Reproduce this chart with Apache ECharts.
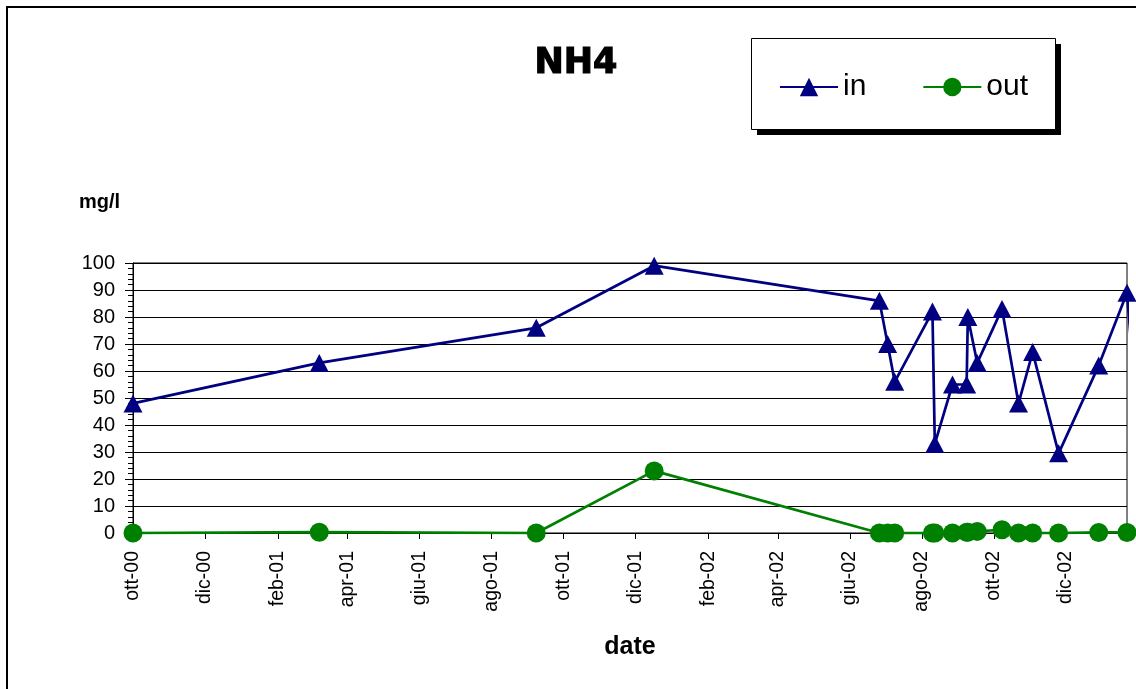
<!DOCTYPE html>
<html>
<head>
<meta charset="utf-8">
<script src="https://cdn.jsdelivr.net/npm/echarts@6/dist/echarts.min.js"></script>
<style>
  html, body { margin: 0; padding: 0; background: #fff; }
  #chart { width: 1136px; height: 689px; }
</style>
</head>
<body>
<div id="chart"></div>
<script>
// Sampling dates and NH4 concentrations (mg/l)
const sampleDates = ['2000-10-01', '2001-03-08', '2001-09-08', '2001-12-17', '2002-06-26',
  '2002-07-03', '2002-07-09', '2002-08-10', '2002-08-12', '2002-08-27', '2002-09-08',
  '2002-09-09', '2002-09-17', '2002-10-08', '2002-10-22', '2002-11-03', '2002-11-25',
  '2002-12-29', '2003-01-22', '2003-02-07'];
const nh4In = [48, 63, 76, 99, 86, 70, 56, 82, 33, 55, 55, 80, 63, 83, 48, 67, 29.5, 62, 89, 3];
const nh4Out = [0, 0.3, 0, 23, 0, 0, 0, 0, 0, 0, 0.3, 0.3, 0.6, 1.2, 0, 0, 0, 0.2, 0.2, 0];

// Date axis: two-month ticks
const xTickDates = ['2000-10-01', '2000-12-01', '2001-02-01', '2001-04-01', '2001-06-01',
  '2001-08-01', '2001-10-01', '2001-12-01', '2002-02-01', '2002-04-01', '2002-06-01',
  '2002-08-01', '2002-10-01', '2002-12-01'];
const xTickLabels = ['ott-00', 'dic-00', 'feb-01', 'apr-01', 'giu-01', 'ago-01', 'ott-01',
  'dic-01', 'feb-02', 'apr-02', 'giu-02', 'ago-02', 'ott-02', 'dic-02'];
const xRange = ['2000-10-01', '2003-01-22'];

const FONT = '"Liberation Sans", Arial, sans-serif';

function ts(s) {
  const p = s.split('-').map(Number);
  return new Date(p[0], p[1] - 1, p[2]).getTime();
}
const tickTs = xTickDates.map(ts);
const DAY = 86400000;

const chart = echarts.init(document.getElementById('chart'), null, { renderer: 'canvas' });

chart.setOption({
  animation: false,
  backgroundColor: '#fff',
  title: {
    text: 'NH4',
    left: 576,
    top: 46,
    padding: 0,
    textAlign: 'center',
    textStyle: {
      fontFamily: '"DejaVu Sans", sans-serif', fontWeight: 'bold', fontSize: 35, color: '#000',
      textBorderColor: '#000', textBorderWidth: 1.2
    }
  },
  graphic: [
    // outer chart frame
    { type: 'rect', z: 0, silent: true, shape: { x: 7, y: 7, width: 1300, height: 900 },
      style: { fill: 'none', stroke: '#000', lineWidth: 2 } },
    // legend frame with drop shadow
    { type: 'rect', z: 1, silent: true, shape: { x: 757, y: 44, width: 304, height: 91 },
      style: { fill: '#000' } },
    { type: 'rect', z: 2, silent: true, shape: { x: 751.5, y: 38.5, width: 304, height: 91 },
      style: { fill: '#fff', stroke: '#000', lineWidth: 1 } },
    // unit label
    { type: 'text', z: 3, silent: true, x: 79, y: 202,
      style: { text: 'mg/l', font: 'bold 20px ' + FONT, fill: '#000', verticalAlign: 'middle' } }
  ],
  legend: {
    data: ['in', 'out'],
    left: 779,
    top: 72,
    padding: 0,
    itemWidth: 58,
    itemHeight: 23,
    itemGap: 56,
    z: 10,
    textStyle: { fontFamily: FONT, fontSize: 30, color: '#000' }
  },
  grid: {
    left: 133, top: 263, width: 994, height: 270,
    show: true, borderColor: '#000', borderWidth: 1, backgroundColor: 'transparent'
  },
  xAxis: {
    type: 'value',
    min: ts(xRange[0]),
    max: ts(xRange[1]),
    name: 'date',
    nameLocation: 'middle',
    nameGap: 102,
    nameTextStyle: { fontFamily: FONT, fontWeight: 'bold', fontSize: 25, color: '#000' },
    axisLine: { show: true, lineStyle: { color: '#000', width: 1 } },
    axisTick: { show: true, length: 6, lineStyle: { color: '#000' }, customValues: tickTs },
    splitLine: { show: false },
    axisLabel: {
      customValues: tickTs,
      rotate: 90,
      margin: 18,
      fontFamily: FONT,
      fontSize: 19.5,
      color: '#000',
      hideOverlap: false,
      showMinLabel: true,
      showMaxLabel: true,
      formatter: function (v) {
        for (let i = 0; i < tickTs.length; i++) {
          if (Math.abs(v - tickTs[i]) < DAY / 2) return xTickLabels[i];
        }
        return '';
      }
    }
  },
  yAxis: {
    type: 'value',
    min: 0,
    max: 100,
    interval: 10,
    axisLine: { show: true, lineStyle: { color: '#000', width: 1 } },
    axisTick: { show: true, length: 8, lineStyle: { color: '#000' } },
    minorTick: { show: true, splitNumber: 5, length: 5, lineStyle: { color: '#000' } },
    splitLine: { show: true, lineStyle: { color: '#000', width: 1 } },
    axisLabel: { margin: 18, fontFamily: FONT, fontSize: 20, color: '#000' }
  },
  series: [
    {
      name: 'in',
      type: 'line',
      clip: false,
      showSymbol: true,
      showAllSymbol: true,
      symbol: 'triangle',
      symbolSize: [19, 18],
      color: '#000080',
      lineStyle: { color: '#000080', width: 2.7 },
      itemStyle: { color: '#000080' },
      data: sampleDates.map((d, i) => [ts(d), nh4In[i]]),
      z: 3
    },
    {
      name: 'out',
      type: 'line',
      clip: false,
      showSymbol: true,
      showAllSymbol: true,
      symbol: 'circle',
      symbolSize: 19,
      color: '#008000',
      lineStyle: { color: '#008000', width: 2.7 },
      itemStyle: { color: '#008000' },
      data: sampleDates.map((d, i) => [ts(d), nh4Out[i]]),
      z: 4
    }
  ]
});
</script>
</body>
</html>
